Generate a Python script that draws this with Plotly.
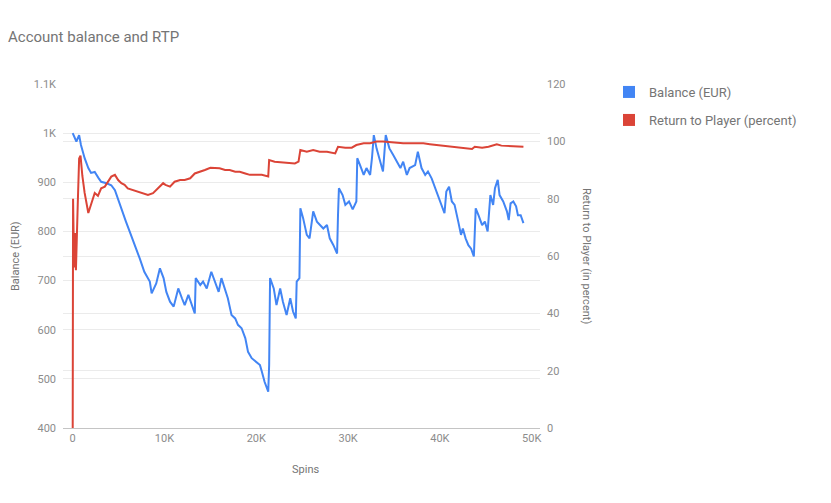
import plotly.graph_objects as go

# ---- data ----
balance_spins = [0, 400, 700, 900, 1300, 1700, 2000, 2400, 2800, 3100, 3700, 4200, 4600, 4900,
                 5300, 5800, 6200, 6800, 7300, 7800, 8400, 8600, 9100, 9500, 9900, 10200, 10600,
                 11000, 11500, 11900, 12200, 12600, 13000, 13300, 13400, 13900, 14200, 14600,
                 15100, 15500, 15900, 16200, 16600, 16900, 17300, 17700, 18000, 18400, 18800,
                 19100, 19500, 20000, 20400, 20600, 20900, 21300, 21400, 21500, 21900, 22200,
                 22600, 22900, 23300, 23700, 24000, 24300, 24400, 24700, 24800, 25100, 25500,
                 25800, 26200, 26600, 26900, 27300, 27700, 28000, 28400, 28800, 28900, 29000,
                 29400, 29700, 30100, 30500, 30900, 31000, 31300, 31700, 32000, 32400, 32600,
                 32800, 33100, 33500, 33800, 34100, 34500, 34900, 35300, 35700, 36000, 36400,
                 36700, 37300, 37600, 38000, 38400, 38700, 39100, 39500, 39800, 40200, 40500,
                 40700, 41000, 41300, 41600, 42000, 42300, 42500, 42800, 43100, 43400, 43700,
                 43900, 44200, 44600, 44900, 45200, 45500, 45800, 46000, 46300, 46500, 46900,
                 47300, 47500, 47700, 48000, 48300, 48500, 48800, 49100]
balance_eur = [1000, 983, 996, 976, 949, 929, 919, 921, 909, 901, 898, 894, 884, 867,
               847, 820, 800, 772, 745, 718, 698, 674, 694, 725, 705, 677, 657,
               647, 684, 664, 650, 671, 647, 633, 705, 691, 698, 684,
               718, 698, 677, 705, 684, 664, 630, 623, 610, 603, 583,
               555, 542, 535, 528, 515, 494, 474, 528, 705, 684, 650,
               684, 657, 630, 664, 637, 623, 698, 705, 847, 827, 793,
               786, 841, 820, 813, 806, 813, 786, 772, 755, 833, 888,
               874, 854, 861, 845, 861, 949, 935, 915, 929, 915, 949,
               996, 969, 942, 922, 996, 969, 956, 942, 929, 942, 915,
               929, 935, 962, 929, 915, 922, 908, 888, 874, 854, 837,
               881, 891, 861, 854, 820, 793, 806, 786, 772, 765, 749,
               847, 833, 813, 820, 800, 874, 854, 888, 905, 874, 861,
               841, 823, 857, 861, 851, 833, 833, 817]

rtp_spins = [0, 40, 150, 250, 350, 450, 550, 700, 850, 1050, 1300, 1700, 2000, 2400, 2750,
             3100, 3500, 3850, 4200, 4600, 4950, 5300, 5650, 6000, 6550, 7100, 7650, 8200,
             8750, 9300, 9850, 10100, 10600, 11100, 11700, 12200, 12800, 13300, 13900, 14400,
             15000, 15500, 16000, 16600, 17100, 17700, 18200, 18800, 19300, 19900, 20600,
             21300, 21400, 22000, 22800, 23500, 24200, 24600, 24800, 25500, 26200, 26900,
             27700, 28600, 28900, 29700, 30400, 30900, 31700, 32400, 33100, 33800, 34600,
             35300, 36000, 36700, 37500, 38200, 38900, 39700, 40400, 41100, 42000, 42700,
             43500, 43800, 44600, 45300, 46200, 46700, 47500, 48200, 49100]
rtp_percent = [0, 80, 56, 68, 55, 72, 78, 94, 95, 88, 82, 75, 78, 82, 81,
               83.6, 84.2, 85.9, 87.7, 88.3, 86.5, 85.4, 84.8, 83.6, 83, 82.4, 81.9, 81.3,
               81.9, 83.6, 85.4, 84.8, 84.2, 85.9, 86.5, 86.5, 87.1, 88.8, 89.4, 90,
               90.8, 90.6, 90.6, 90, 90, 89.4, 89.4, 88.8, 88.3, 88.3, 88.3,
               87.7, 93.5, 92.9, 92.7, 92.7, 92.3, 92.9, 97, 96.4, 97, 96.4,
               96.4, 95.8, 98.1, 97.8, 97.8, 98.7, 99.3, 99.3, 99.9, 99.9, 99.7,
               99.3, 99.3, 99.3, 99.3, 99.3, 99, 98.7, 98.5, 98.3, 97.8, 97.6,
               97.3, 98.1, 97.8, 98.1, 99, 98.5, 98.4, 98.4, 98.1]

x_tickvals = [0, 10000, 20000, 30000, 40000, 50000]
x_ticktext = ["0", "10K", "20K", "30K", "40K", "50K"]
y1_tickvals = [400, 500, 600, 700, 800, 900, 1000, 1100]
y1_ticktext = ["400", "500", "600", "700", "800", "900", "1K", "1.1K"]
y2_tickvals = [0, 20, 40, 60, 80, 100, 120]

BLUE = "#4285F4"
RED = "#DB4437"
FONT = "Roboto"
TICK_COLOR = "#8c8c8c"
GRID = "#ebebeb"

fig = go.Figure()
fig.add_trace(go.Scatter(x=balance_spins, y=balance_eur, mode="lines",
                         line=dict(color=BLUE, width=2), showlegend=False, yaxis="y"))
fig.add_trace(go.Scatter(x=rtp_spins, y=rtp_percent, mode="lines",
                         line=dict(color=RED, width=2), showlegend=False, yaxis="y2"))
# legend entries (square swatches like the original)
fig.add_trace(go.Scatter(x=[None], y=[None], mode="markers", name="Balance (EUR)",
                         marker=dict(symbol="square", size=9, color=BLUE), legend="legend"))
fig.add_trace(go.Scatter(x=[None], y=[None], mode="markers", name="Return to Player (percent)",
                         marker=dict(symbol="square", size=9, color=RED), legend="legend2"))

L, R, T, B = 63, 291, 84, 75
W, H = 831, 503
pw, ph = W - L - R, H - T - B

def px_x(p):
    return (p - L) / pw

def px_y(p):
    return (H - B - p) / ph

leg_font = dict(family=FONT, size=13, color="#757575")
fig.update_layout(
    width=W, height=H,
    margin=dict(l=L, r=R, t=T, b=B, pad=0),
    paper_bgcolor="white", plot_bgcolor="white",
    font=dict(family=FONT, color=TICK_COLOR, size=11),
    title=dict(text="Account balance and RTP", x=8 / W, xanchor="left",
               y=1 - 37 / H, yanchor="middle",
               font=dict(family=FONT, size=15, color="#757575")),
    xaxis=dict(range=[-1057, 50905], tickvals=x_tickvals, ticktext=x_ticktext,
               showgrid=False, zeroline=False, showline=True, linecolor="#c4c4c4",
               linewidth=1, ticks="", tickfont=dict(size=11, color=TICK_COLOR)),
    yaxis=dict(range=[400, 1100], tickvals=y1_tickvals, ticktext=y1_ticktext,
               showgrid=True, gridcolor=GRID, zeroline=False, ticks="",
               ticklabelstandoff=6, tickfont=dict(size=11, color=TICK_COLOR)),
    yaxis2=dict(range=[0, 120], tickvals=y2_tickvals, overlaying="y", side="right",
                showgrid=True, gridcolor=GRID, zeroline=False, ticks="",
                ticklabelstandoff=6, tickfont=dict(size=11, color=TICK_COLOR)),
    legend=dict(x=px_x(609), y=px_y(77), xanchor="left", yanchor="top",
                font=leg_font, bgcolor="rgba(0,0,0,0)", itemsizing="constant"),
    legend2=dict(x=px_x(609), y=px_y(105), xanchor="left", yanchor="top",
                 font=leg_font, bgcolor="rgba(0,0,0,0)", itemsizing="constant"),
    annotations=[
        dict(text="Balance (EUR)", xref="paper", yref="paper", x=px_x(15), y=0.5,
             textangle=-90, showarrow=False, xanchor="center", yanchor="middle",
             font=dict(family=FONT, size=11, color="#757575")),
        dict(text="Return to Player (in percent)", xref="paper", yref="paper",
             x=px_x(587), y=0.5, textangle=90, showarrow=False,
             xanchor="center", yanchor="middle",
             font=dict(family=FONT, size=11, color="#757575")),
        dict(text="Spins", xref="paper", yref="paper", x=px_x(305), y=px_y(469),
             showarrow=False, xanchor="center", yanchor="middle",
             font=dict(family=FONT, size=11, color="#757575")),
    ],
    hovermode=False,
)

fig.write_html("out.html")
